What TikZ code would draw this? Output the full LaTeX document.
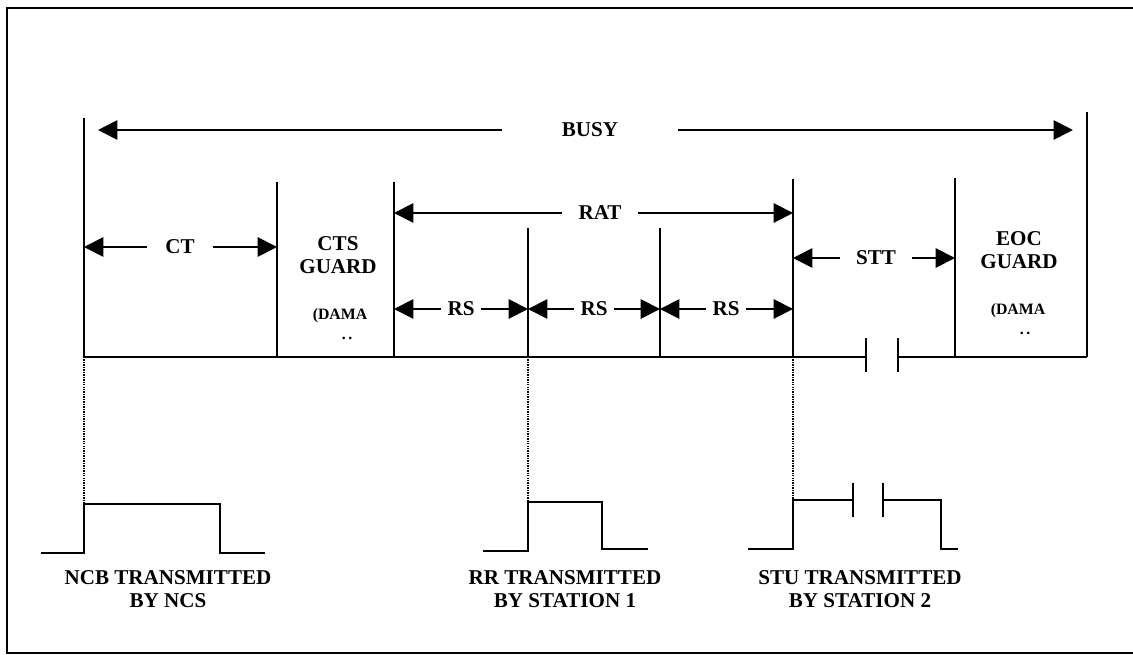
\documentclass[tikz,border=0pt]{standalone}
\usepackage{fontspec}
\setmainfont{Liberation Serif}
\usetikzlibrary{arrows.meta,positioning}

\begin{document}
\begin{tikzpicture}[
    x=0.02cm, y=-0.02cm,
    font=\fontsize{12}{13.5}\selectfont\bfseries,
    wall/.style={line width=1.1pt},
    frame/.style={line width=1.4pt},
    guide/.style={dash pattern=on 0.8pt off 0.6pt, line width=0.7pt},
    dim/.style={-{Triangle[length=11pt,width=11pt]}, line width=1.1pt},
    lbl/.style={inner xsep=9pt, inner ysep=2pt},
    rslbl/.style={inner xsep=3.5pt, inner ysep=2pt},
    guard/.style={align=center, inner sep=0pt},
    dama/.style={font=\fontsize{9}{11}\selectfont\bfseries, align=center, inner sep=0pt},
    caption/.style={align=center, inner sep=0pt}
]
    \useasboundingbox (0,0) rectangle (1133,655);
    \draw [frame] (1133,8) -- (7,8) -- (7,653) -- (1133,653);

    % slot boundaries on the time line
    \foreach \x/\t [count=\i from 0] in {84/118, 277/182, 394/182, 528/228, 660/228, 793/179, 955/178, 1087/112} {
        \coordinate (b\i) at (\x,357);
        \draw [wall] (\x,\t) -- (b\i);
    }
    \coordinate (gapl) at (866,357);
    \coordinate (gapr) at (898,357);
    \draw [wall] (b0) -- (gapl);
    \draw [wall] (gapr) -- (b7);
    \draw [wall] (866,338) -- (866,372);
    \draw [wall] (898,338) -- (898,372);

    % spans
    \node (busy) [lbl, inner xsep=34pt] at (590,130) {BUSY};
    \draw [dim, shorten >=8pt] (busy) -- (busy -| b0);
    \draw [dim, shorten >=8pt] (busy) -- (busy -| b7);

    \node (rat) [lbl] at (600,213) {RAT};
    \draw [dim] (rat) -- (rat -| b2);
    \draw [dim] (rat) -- (rat -| b5);

    \node (ct) [lbl, inner xsep=10pt] at (180,247) {CT};
    \draw [dim] (ct) -- (ct -| b0);
    \draw [dim] (ct) -- (ct -| b1);

    \node (stt) [lbl] at (876,258) {STT};
    \draw [dim] (stt) -- (stt -| b5);
    \draw [dim] (stt) -- (stt -| b6);

    \foreach \n/\l/\r/\x in {rsa/b2/b3/461, rsb/b3/b4/594, rsc/b4/b5/726} {
        \node (\n) [rslbl] at (\x,309) {RS};
        \draw [dim] (\n) -- (\n -| \l);
        \draw [dim] (\n) -- (\n -| \r);
    }

    % guard slots
    \node (ctsg) [guard] at (338,255) {CTS\\GUARD};
    \node (ctsd) [dama] at (340,324) {(DAMA\\\hspace*{0.9em}.\,.};
    \node (eocg) [guard] at (1019,250) {EOC\\GUARD};
    \node (eocd) [dama] at (1018,319) {(DAMA\\\hspace*{0.9em}.\,.};

    % transmissions
    \coordinate (ncbup) at (84,504);
    \coordinate (rrup) at (528,502);
    \coordinate (stuup) at (793,500);
    \draw [guide] (b0) -- (ncbup);
    \draw [guide] (b3) -- (rrup);
    \draw [guide] (b5) -- (stuup);

    \draw [wall] (41,553) -- (84,553) -- (ncbup) -- (220,504) -- (220,553) -- (265,553);
    \draw [wall] (483,551) -- (528,551) -- (rrup) -- (602,502) -- (602,549) -- (648,549);
    \draw [wall] (748,549) -- (793,549) -- (stuup) -- (853,500);
    \draw [wall] (853,483) -- (853,517);
    \draw [wall] (883,483) -- (883,517);
    \draw [wall] (883,500) -- (941,500) -- (941,549) -- (958,549);

    \node (ncb) [caption] at (168,589) {NCB TRANSMITTED\\BY NCS};
    \node (rr) [caption] at (565,589) {RR TRANSMITTED\\BY STATION 1};
    \node (stu) [caption] at (860,589) {STU TRANSMITTED\\BY STATION 2};
\end{tikzpicture}
\end{document}
